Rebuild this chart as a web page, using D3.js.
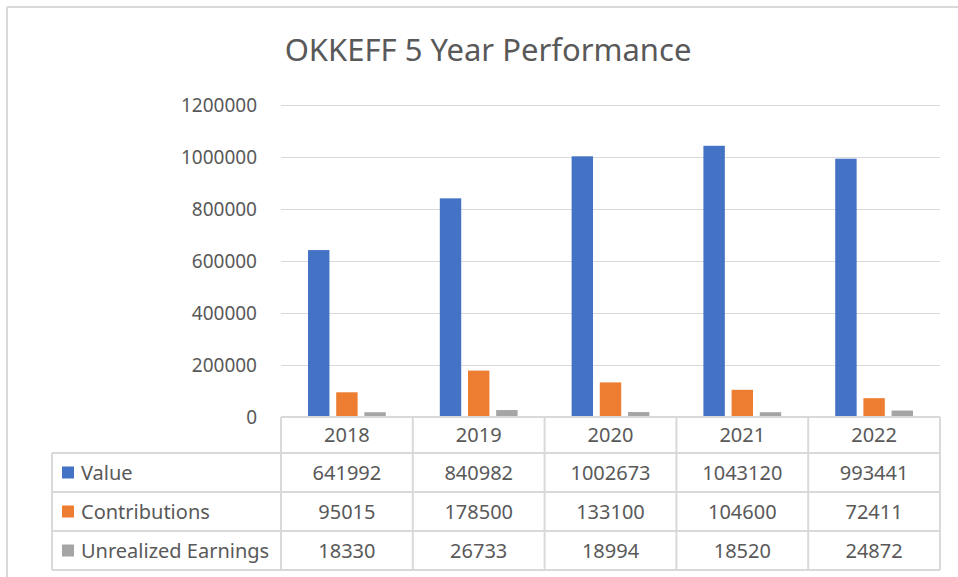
<!DOCTYPE html>
<html>
<head>
<meta charset="utf-8">
<script src="https://cdn.jsdelivr.net/npm/d3@7"></script>
<style>
  body { margin: 0; background: #fff; }
  svg { display: block; font-family: "Noto Sans", "Open Sans", sans-serif; }
</style>
</head>
<body>
<div id="chart"></div>
<script>
var years = ["2018", "2019", "2020", "2021", "2022"];
var seriesNames = ["Value", "Contributions", "Unrealized Earnings"];
var valueData = [641992, 840982, 1002673, 1043120, 993441];
var contribData = [95015, 178500, 133100, 104600, 72411];
var earningsData = [18330, 26733, 18994, 18520, 24872];
var yTicks = [0, 200000, 400000, 600000, 800000, 1000000, 1200000];
var colors = ["#4472C4", "#ED7D31", "#A5A5A5"];

var allSeries = [valueData, contribData, earningsData];

var width = 958, height = 577;
var textColor = "#595959";
var lineColor = "#d9d9d9";

var svg = d3.select("#chart").append("svg")
    .attr("width", width)
    .attr("height", height);

// chart frame (only top and left edges visible)
svg.append("line").attr("x1", 7).attr("x2", width).attr("y1", 7).attr("y2", 7)
    .attr("stroke", lineColor).attr("stroke-width", 2);
svg.append("line").attr("x1", 7).attr("x2", 7).attr("y1", 7).attr("y2", height)
    .attr("stroke", lineColor).attr("stroke-width", 2);

svg.append("text")
    .attr("x", 488)
    .attr("y", 61)
    .attr("text-anchor", "middle")
    .attr("fill", textColor)
    .style("font-size", "31px")
    .text("OKKEFF 5 Year Performance");

var plot = {left: 281, right: 940, top: 105, bottom: 417};

var x = d3.scaleBand()
    .domain(years)
    .range([plot.left, plot.right])
    .paddingInner(0.41)
    .paddingOuter(0.205);

var xs = d3.scaleBand()
    .domain(seriesNames)
    .range([0, x.bandwidth()])
    .paddingInner(0.24);

var y = d3.scaleLinear()
    .domain([0, 1200000])
    .range([plot.bottom, plot.top]);

var yAxis = d3.axisLeft(y)
    .tickValues(yTicks)
    .tickSize(-(plot.right - plot.left))
    .tickPadding(24)
    .tickFormat(d3.format("d"));

svg.append("g")
    .attr("class", "axis axis--y")
    .attr("transform", "translate(" + plot.left + ",0)")
    .call(yAxis)
    .call(function(g) {
      g.select(".domain").remove();
      g.selectAll(".tick line").attr("stroke", lineColor);
      g.selectAll(".tick text")
        .attr("fill", textColor)
        .style("font-size", "19px")
        .style("font-family", "'Noto Sans', sans-serif");
    });

var groups = svg.selectAll(".series")
    .data(allSeries)
    .enter().append("g")
    .attr("class", "series")
    .attr("fill", function(d, i) { return colors[i]; });

groups.selectAll("rect")
    .data(function(d, i) {
      return d.map(function(v, j) { return {year: years[j], value: v, series: seriesNames[i]}; });
    })
    .enter().append("rect")
    .attr("x", function(d) { return x(d.year) + xs(d.series); })
    .attr("width", xs.bandwidth())
    .attr("y", function(d) { return y(d.value); })
    .attr("height", function(d) { return y(0) - y(d.value); });

// data table under the plot
var tableLeft = 52;
var rowEdges = [417, 453, 492, 531, 570];
var table = svg.append("g").attr("class", "data-table");
var cellStroke = 2;

// horizontal lines
rowEdges.forEach(function(ry, k) {
  table.append("line")
    .attr("x1", k === 0 ? plot.left : tableLeft)
    .attr("x2", plot.right)
    .attr("y1", ry).attr("y2", ry)
    .attr("stroke", lineColor).attr("stroke-width", cellStroke);
});
// vertical lines: column boundaries
var colEdges = years.map(function(yr, j) { return plot.left + j * x.step(); }).concat([plot.right]);
colEdges.forEach(function(cx) {
  table.append("line")
    .attr("x1", cx).attr("x2", cx)
    .attr("y1", rowEdges[0]).attr("y2", rowEdges[4])
    .attr("stroke", lineColor).attr("stroke-width", cellStroke);
});
table.append("line")
  .attr("x1", tableLeft).attr("x2", tableLeft)
  .attr("y1", rowEdges[1]).attr("y2", rowEdges[4])
  .attr("stroke", lineColor).attr("stroke-width", cellStroke);

// header labels
table.selectAll(".hdr")
  .data(years)
  .enter().append("text")
  .attr("class", "hdr")
  .attr("x", function(d) { return x(d) + x.bandwidth() / 2; })
  .attr("y", (rowEdges[0] + rowEdges[1]) / 2)
  .attr("dy", "0.35em")
  .attr("text-anchor", "middle")
  .attr("fill", textColor)
  .style("font-size", "20px")
  .text(function(d) { return d; });

// rows
allSeries.forEach(function(data, i) {
  var cy = (rowEdges[i + 1] + rowEdges[i + 2]) / 2;
  table.append("rect")
    .attr("x", 62).attr("y", cy - 6)
    .attr("width", 12).attr("height", 12)
    .attr("fill", colors[i]);
  table.append("text")
    .attr("x", 81).attr("y", cy)
    .attr("dy", "0.35em")
    .attr("fill", textColor)
    .style("font-size", "20px")
    .text(seriesNames[i]);
  table.selectAll(".val" + i)
    .data(data)
    .enter().append("text")
    .attr("x", function(d, j) { return x(years[j]) + x.bandwidth() / 2; })
    .attr("y", cy)
    .attr("dy", "0.35em")
    .attr("text-anchor", "middle")
    .attr("fill", textColor)
    .style("font-size", "20px")
    .text(function(d) { return d; });
});
</script>
</body>
</html>
